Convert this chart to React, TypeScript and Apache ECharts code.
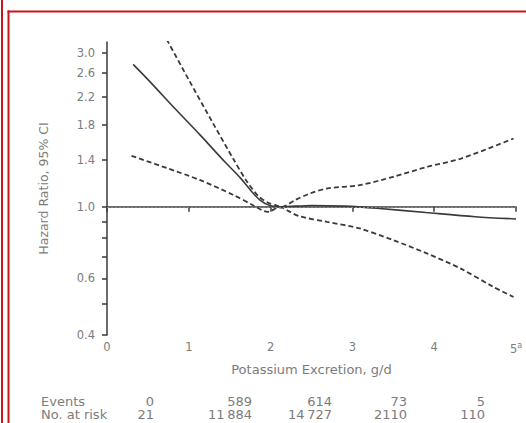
import React, { useEffect, useRef } from "react";
import * as echarts from "echarts";

// Hazard ratio curve (solid)
const hrX = [0.32, 0.53, 0.83, 1.14, 1.44, 1.63, 1.75, 1.87, 1.99, 2.12, 2.5, 2.9, 3.3, 3.9, 4.5, 5.0];
const hrY = [2.77, 2.44, 2.02, 1.67, 1.38, 1.23, 1.13, 1.05, 1.01, 1.0, 1.01, 1.005, 0.99, 0.96, 0.932, 0.917];

// Upper 95% CI (dashed)
const upX = [0.68, 0.75, 1.0, 1.3, 1.55, 1.7, 1.85, 1.97, 2.07, 2.14, 2.3, 2.48, 2.69, 3.09, 3.5, 3.91, 4.32, 4.97];
const upY = [3.48, 3.24, 2.48, 1.81, 1.4, 1.21, 1.08, 1.03, 1.01, 1.0, 1.05, 1.1, 1.14, 1.168, 1.24, 1.33, 1.41, 1.63];

// Lower 95% CI (dashed)
const loX = [0.3, 0.73, 1.14, 1.54, 1.79, 1.91, 1.97, 2.07, 2.14, 2.22, 2.35, 2.69, 3.09, 3.5, 3.91, 4.32, 4.72, 4.97];
const loY = [1.44, 1.32, 1.21, 1.09, 1.01, 0.972, 0.965, 0.99, 0.995, 0.97, 0.935, 0.898, 0.857, 0.788, 0.717, 0.644, 0.565, 0.525];

// Reference hazard ratio
const refHR = 1.0;

const yTickValues = [0.4, 0.5, 0.6, 0.7, 0.8, 0.9, 1.0, 1.4, 1.8, 2.2, 2.6, 3.0];
const yLabelValues = [0.4, 0.6, 1.0, 1.4, 1.8, 2.2, 2.6, 3.0];

const events = [0, 589, 614, 73, 5];
const atRisk = [21, 11884, 14727, 2110, 110];
const tableRightX = [154, 252, 332, 407, 485];

const FONT = "DejaVu Sans";
const GREY = "#7c7c7c";
const LINE = "#3a3a3a";
const RED = "#c8161d";

const fmtNum = (n: number) =>
  n >= 10000 ? String(n).replace(/(\d+)(\d{3})$/, "$1\u2009$2") : String(n);

const toPairs = (xs: number[], ys: number[]) => xs.map((x, i) => [x, Math.log(ys[i])]);

export default function App() {
  const ref = useRef<HTMLDivElement>(null);
  useEffect(() => {
    if (!ref.current) return;
    const chart = echarts.init(ref.current, undefined, { renderer: "svg" });
    const dashed = { color: LINE, width: 1.8, type: [5, 3] as any };
    const graphics: any[] = [
      { type: "rect", shape: { x: 1, y: 0, width: 2, height: 423 }, style: { fill: RED }, silent: true },
      { type: "rect", shape: { x: 7.5, y: 10.5, width: 2, height: 413 }, style: { fill: RED }, silent: true },
      { type: "rect", shape: { x: 7.5, y: 10.5, width: 519, height: 2 }, style: { fill: RED }, silent: true },
      { type: "text", x: 41, y: 401, style: { text: "Events", font: `13px '${FONT}'`, fill: GREY, textVerticalAlign: "middle" } },
      { type: "text", x: 41, y: 414.5, style: { text: "No. at risk", font: `13px '${FONT}'`, fill: GREY, textVerticalAlign: "middle" } },
    ];
    events.forEach((v, i) => {
      graphics.push({
        type: "text", x: tableRightX[i], y: 401,
        style: { text: fmtNum(v), font: `13px '${FONT}'`, fill: GREY, textAlign: "right", textVerticalAlign: "middle" },
      });
    });
    atRisk.forEach((v, i) => {
      graphics.push({
        type: "text", x: tableRightX[i], y: 414.5,
        style: { text: fmtNum(v), font: `13px '${FONT}'`, fill: GREY, textAlign: "right", textVerticalAlign: "middle" },
      });
    });

    chart.setOption({
      animation: false,
      backgroundColor: "#ffffff",
      grid: { left: 107, right: 10, top: 42, bottom: 88, containLabel: false },
      xAxis: {
        type: "value",
        min: 0,
        max: 5,
        interval: 1,
        name: "Potassium Excretion, g/d",
        nameLocation: "middle",
        nameGap: 28,
        nameTextStyle: { color: GREY, fontFamily: FONT, fontSize: 13 },
        axisLine: { show: true, lineStyle: { color: LINE, width: 1.5 } },
        axisTick: { show: true, length: 5, lineStyle: { color: LINE, width: 1.5 } },
        axisLabel: {
          color: GREY,
          fontFamily: FONT,
          fontSize: 11.5,
          margin: 6,
          formatter: (v: number) => (v === 5 ? "5{a|a}" : String(v)),
          rich: { a: { fontSize: 8, color: GREY, fontFamily: FONT, padding: [0, 0, 7, 0] } },
        },
        splitLine: { show: false },
      },
      yAxis: {
        type: "value",
        min: Math.log(0.4),
        max: Math.log(3.25),
        name: "Hazard Ratio, 95% CI",
        nameLocation: "middle",
        nameGap: 57,
        nameTextStyle: { color: GREY, fontFamily: FONT, fontSize: 12.5 },
        axisLine: { show: true, lineStyle: { color: LINE, width: 1.5 } },
        axisTick: {
          show: true,
          length: 5,
          lineStyle: { color: LINE, width: 1.5 },
          customValues: yTickValues.map((v) => Math.log(v)),
        },
        axisLabel: {
          color: GREY,
          fontFamily: FONT,
          fontSize: 11.5,
          margin: 12,
          customValues: yLabelValues.map((v) => Math.log(v)),
          formatter: (v: number) => Math.exp(v).toFixed(1),
        },
        splitLine: { show: false },
      },
      series: [
        {
          type: "line",
          data: toPairs(hrX, hrY),
          smooth: 0.3,
          symbol: "none",
          lineStyle: { color: LINE, width: 1.6 },
          z: 3,
        },
        { type: "line", data: toPairs(upX, upY), smooth: 0.3, symbol: "none", lineStyle: dashed, clip: true },
        {
          type: "line",
          data: toPairs(loX, loY),
          smooth: 0.3,
          symbol: "none",
          lineStyle: dashed,
          clip: true,
          markLine: {
            silent: true,
            symbol: "none",
            label: { show: false },
            lineStyle: { color: "#888", width: 1, type: [2, 2] as any },
            data: [{ yAxis: Math.log(refHR) }],
          },
        },
      ],
      graphic: graphics,
    });
    return () => chart.dispose();
  }, []);
  return (
    <div
      ref={ref}
      style={{ position: "fixed", left: 0, top: 0, width: 526, height: 423, background: "#fff" }}
    />
  );
}
